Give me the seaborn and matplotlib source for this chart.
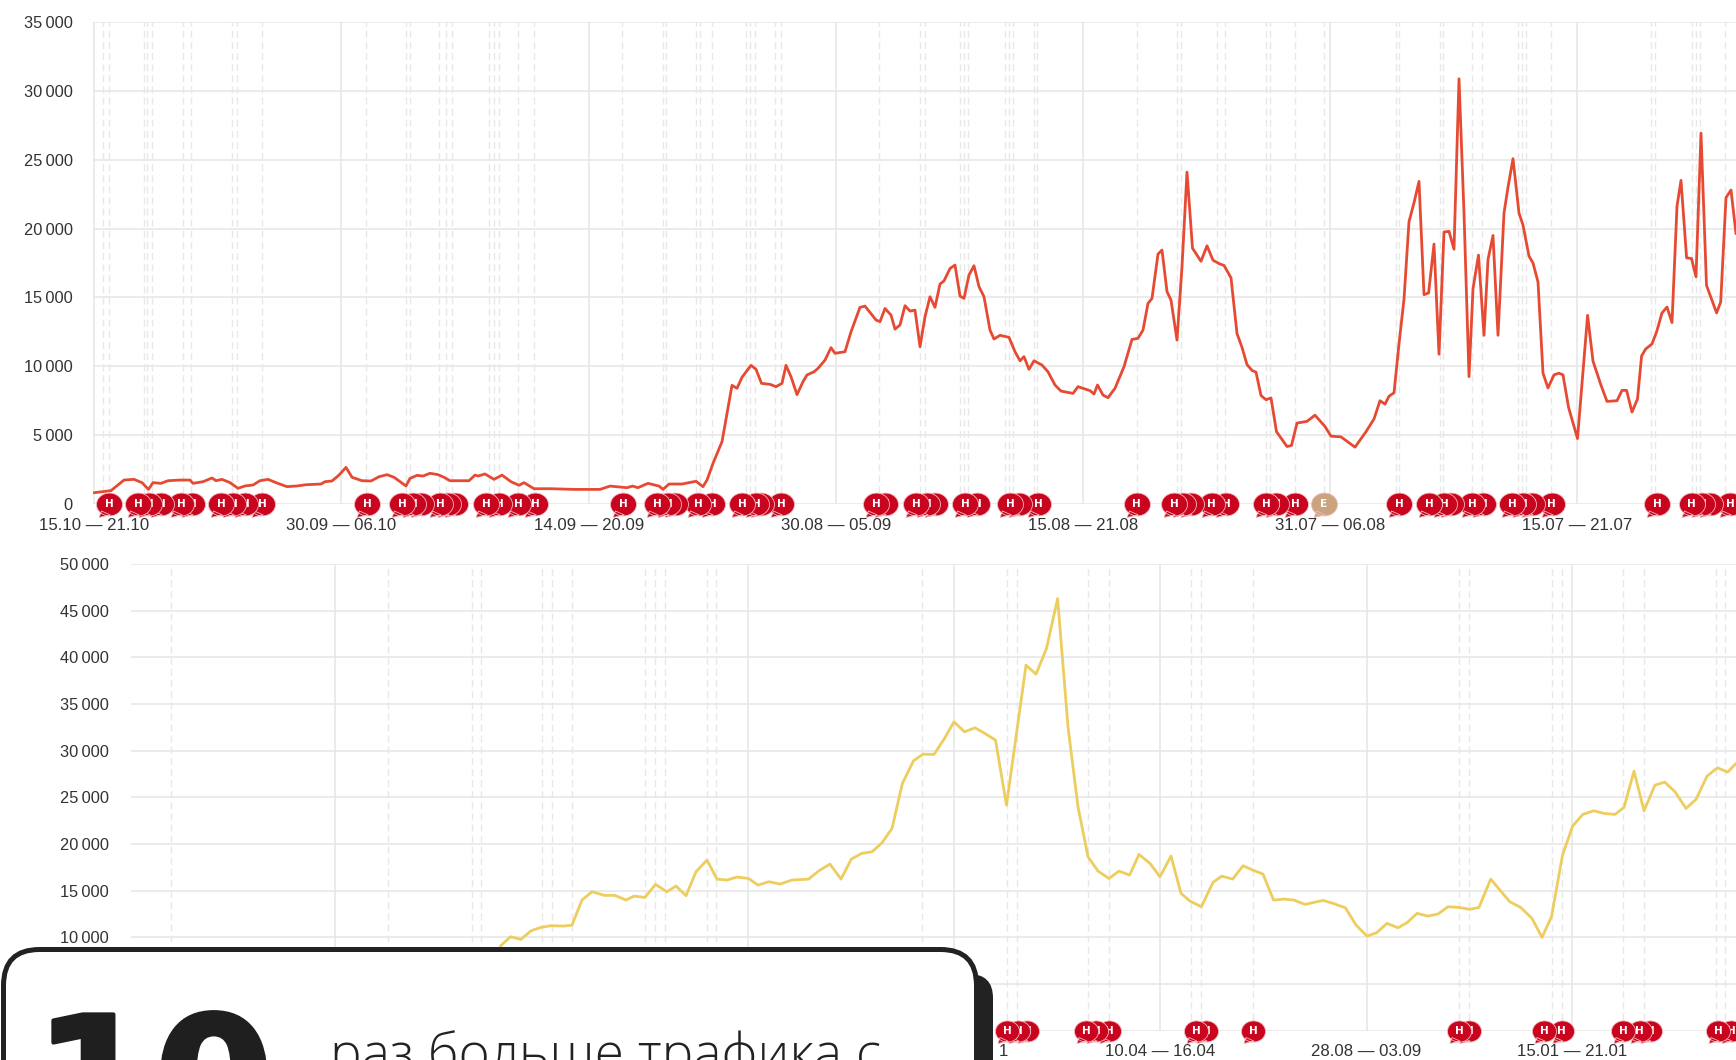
import matplotlib
matplotlib.use("Agg")
import matplotlib.pyplot as plt
import matplotlib.patheffects as pe
import numpy as np
import seaborn as sns
from matplotlib.patches import FancyBboxPatch
from matplotlib.path import Path

# ---- top chart data (position along the time axis, visits)
top_pos = [94,111,124,134,142,148.5,153,161,168,180,190,193,203,212,216,222,230,238,245,253,260,268,276,287,297,306,321,325,332,339,346,352,362,371,379,387,394,400,406,410,417,423,430,438,444,450,469,475,478,485,494,502,511,519,524,534,551,574,600,
 610,627,632.5,638,648,659,663,669,682,696,703,707,713,722,732,737,742,751,756,761.5,770,776,782,786,791,797,803,807,814,818,825,831,835,845,851,860,865,872,876,880,885,891,895,900,905,910,915,920,925,930,935,940,944,950,955,960,964,969,974,979,984,990,994,1000,1009,1015,1020,1024,1029,1034,1042,1048,1055,1061,1073,1078,1090,1094,1097.5,1103,1108,1115,1124,1132,1138,1143,1148,1152,1158,1162,1167,1171,1177,1182,1187,
 1192.5,1201,1207,1213,1220,1224,1231,1237,1242,1247,1252,1256,1261,1266,1271,1276.5,1287,1291.5,1297,1307,1315,1325,1331,1341,1355,1366,1374,1380,1385,1389,1394,1399,1404,1409,1414,1419,1424,1428.6,1434,1439,1444,1449,1454,1459,1464,1469,1473,1478.5,1484,1488,1493,1498,1504,1508,1513,1519,1523,1529,1533,1538,1543,1548,1554,1559,1563,1568.6,1577.5,1587.6,1593,1601,1607,1617,1622,1626.6,1632,1637.5,1641.6,1645.6,1652,1656.6,1662,1667,1672,1677,1681,1686.6,1691.5,1696,1701,1706.5,1716.6,1720.7,1726,1731,1736]
top_visits = [820,970,1740,1790,1550,1060,1550,1500,1690,1740,1740,1500,1620,1890,1690,1790,1550,1140,1310,1380,1690,1790,1550,1260,1310,1400,1450,1620,1670,2100,2660,1940,1690,1670,1980,2130,1940,1620,1310,1860,2080,2030,2230,2130,1940,1690,1690,2100,2030,2180,1790,2100,1620,1360,1550,1110,1110,1060,1060,
 1300,1185,1300,1185,1500,1300,1065,1450,1450,1650,1260,1740,2950,4525,8615,8400,9200,10070,9780,8760,8690,8520,8760,10070,9240,7940,8880,9370,9600,9850,10450,11350,10940,11060,12500,14280,14370,13720,13360,13240,14200,13720,12700,13000,14400,14010,14080,11420,13600,15050,14280,15970,16200,17100,17350,15100,14930,16630,17300,15780,15050,12630,11980,12250,12100,11060,10400,10700,9780,10400,10090,9600,8640,8200,8030,8520,8230,7990,8640,7910,7720,8400,9970,11950,12030,12630,14570,14930,18150,18440,15420,14810,11900,17230,24100,
 18575,17625,18750,17700,17425,17325,16425,12375,11375,10125,9700,9575,7875,7575,7700,5250,4175,4250,5875,6000,6450,5625,4925,4875,4125,5250,6175,7500,7250,7825,8075,11625,14875,20500,21875,23425,15200,15325,18875,10875,19750,19800,18500,30875,21125,9250,15625,18075,12250,17750,19500,12250,21125,23000,25075,21125,20250,18000,17500,16125,9500,8425,9375,9500,9375,7000,4750,13700,10375,8625,7450,7500,8250,8250,6675,7625,10750,11250,11625,12500,13875,14300,13175,21625,23500,17875,17825,16500,26925,15875,13875,14675,22250,22800,19625]
top_ticks = [94,341,589,836,1083,1330,1577]
top_labels = ["15.10 — 21.10","30.09 — 06.10","14.09 — 20.09","30.08 — 05.09","15.08 — 21.08","31.07 — 06.08","15.07 — 21.07"]
top_yticks = [0,5000,10000,15000,20000,25000,30000,35000]
top_events = [103,109,143.5,147,152,183,191,231.5,237,262,365.5,406,410,439,446,452,489,494,499,518,534,622,663,666,696,700,712,746,750,755,775,781,879,920,924.5,960,964,968,1005,1009,1013,1034,1037,1136.5,1177,1181,1217,1225,1265.5,1269.6,1295,1324,1396,1399,1440,1443,1472,1482,1518,1522,1526,1551,1651,1655,1691.5,1696,1700,1725]
top_notes = [109,138,149,161,181,192,221,233,245,262,367,402,413,421,440,448,455,486,499,518,535,623,657,668,675,698,712,742,756,761,781,876,885,916,927,935,965,977,1010,1019,1038,1136.5,1174,1183,1191,1211.5,1226,1266,1276,1295,1399,1429,1444,1451,1472,1483,1512,1523,1532,1551.5,1657,1691.5,1702,1710,1730]
top_notes_other = [1324]

# ---- bottom chart data
bot_pos = [500.4,510.6,520.8,531,541,551,563.7,572,582,592,604.5,614.7,626,634,645,655.5,667,676,686,696,707,717,727,737,748.6,758,769,780,792,808.6,819,830,841,851.4,861.6,872,882,892,902.4,913.5,923,934,944.5,954,964.5,975,985,995.5,1006.5,1026,1036,1046.5,1057.6,1068,1078,1088,1098,
 1109,1119,1129.6,1139,1150,1160,1171,1181,1190,1201.4,1213,1221.7,1232.7,1243,1253,1263,1273.6,1284.6,1294,1305,1323,1333,1345.4,1356,1367,1376.7,1387,1398,1407,1417,1428,1438,1448,1459,1470,1479,1490.7,1509.7,1520.7,1532,1542,1551.5,1562.5,1572.6,1582.8,1593.7,1604,1615,1624,1634,1644,1655,1664.7,1675,1686,1696,1707,1717.4,1727.6,1736]
bot_visits = [9070,10070,9780,10700,11070,11250,11210,11320,14000,14890,14500,14500,14000,14420,14280,15670,14890,15500,14460,17030,18280,16240,16140,16460,16310,15600,15960,15710,16140,16240,17140,17850,16240,18390,18990,19170,20130,21670,26490,28920,29630,29600,31310,33090,32020,32450,31840,31130,24170,39160,38200,40950,46300,32560,23990,18640,17100,
 16310,17100,16670,18890,17920,16490,18710,14710,13890,13280,15890,16560,16240,17670,17200,16780,13990,14100,13990,13530,13960,13640,13170,11320,10140,10500,11500,11030,11570,12570,12280,12500,13280,13210,13000,13210,16240,13820,13210,12030,10000,12210,18810,21920,23170,23560,23280,23170,23920,27810,23560,26310,26630,25600,23810,24780,27270,28170,27700,28630]
bot_ticks = [335,748,954,1160,1366.5,1572]
bot_labels = ["","","","10.04 — 16.04","28.08 — 03.09","15.01 — 21.01"]
bot_yticks = [0,5000,10000,15000,20000,25000,30000,35000,40000,45000,50000]
bot_events = [170.5,388,471.6,480.7,542,552,572,645,655,665,706.5,716,922,1007,1017,1088,1108.6,1191,1200.6,1253,1459,1469,1551.5,1561.6,1623,1644,1716,1725]
bot_notes = [1007,1018,1027,1086,1096,1109,1196,1206,1253,1459,1469,1544,1561.6,1623,1639.5,1650,1718,1731]

RED, TAN = "#c8041f", "#c9a47e"
GRID = "#e6e6e6"
sns.set_theme(style="white")
plt.rcParams["font.family"] = ["Liberation Sans", "DejaVu Sans"]

W, H = 1736, 1060
fig = plt.figure(figsize=(W/100, H/100), dpi=100, facecolor="white")

def rect(l, t, r, b):
    return [l/W, 1-b/H, (r-l)/W, (b-t)/H]

ax1 = fig.add_axes(rect(93, 22, 1736, 504))
ax2 = fig.add_axes(rect(131, 564, 1736, 1030.7))

# speech-bubble note marker
circ = Path.unit_circle()
body = Path(circ.vertices*np.array([1, .88]), circ.codes)
tail = Path([(-.62,-.5),(-.8,-1.0),(.05,-.8),(-.62,-.5)], [Path.MOVETO,Path.LINETO,Path.LINETO,Path.CLOSEPOLY])
bubble = Path.make_compound_path(body, tail)

def fmt(v):
    return f"{v:,}".replace(",", "\u2009")

def style(ax, xlim, ymax, ticks, labels, yticks, events, notes, size, pad_y, pad_x, others=()):
    ax.set_xlim(*xlim); ax.set_ylim(0, ymax)
    ax.set_xticks(ticks); ax.set_xticklabels(labels)
    ax.set_yticks(yticks); ax.set_yticklabels([fmt(v) for v in yticks])
    ax.set_xlabel(""); ax.set_ylabel("")
    ax.grid(True, color=GRID, lw=1.1)
    ax.set_axisbelow(True)
    for s in ax.spines.values():
        s.set_visible(False)
    ax.tick_params(axis="y", length=0, pad=pad_y, labelsize=11.8, colors="#333333")
    ax.tick_params(axis="x", length=0, pad=pad_x, labelsize=12.1, colors="#333333")
    for e in events:
        ax.axvline(e, color="#e8e8e8", lw=1.0, ls=(0, (5, 3)), zorder=1)
    allnotes = sorted([(n, RED, "H") for n in notes] + [(n, TAN, "E") for n in others], reverse=True)
    for i, (n, c, t) in enumerate(allnotes):
        ax.scatter([n], [0], marker=bubble, s=size, color=c, edgecolors="#f3b9bd", linewidths=.6, clip_on=False, zorder=5+i)
        ax.text(n, 0, t, color="white", fontsize=7.5, fontweight="bold", ha="center", va="center", zorder=5+i, family="DejaVu Sans")

sns.lineplot(x=top_pos, y=top_visits, ax=ax1, color="#e64a33", lw=2.0, sort=False, errorbar=None, zorder=3)
style(ax1, (93, 1736), 35000, top_ticks, top_labels, top_yticks, top_events, top_notes, 350, 14.5, 10, top_notes_other)
sns.lineplot(x=bot_pos, y=bot_visits, ax=ax2, color="#edcd5e", lw=2.0, sort=False, errorbar=None, zorder=3)
style(ax2, (131, 1736), 50000, bot_ticks, bot_labels, bot_yticks, bot_events, bot_notes, 300, 16, 9.5)
# the only visible character of the tick label that the card hides
ax2.annotate("1", xy=(1003, 0), xytext=(0, -9.5), textcoords="offset points", ha="center", va="top", fontsize=12.1, color="#333333", annotation_clip=False)

# overlay card, in pixel units
ov = fig.add_axes([0, 0, 1, 1], zorder=50)
ov.set_xlim(0, W); ov.set_ylim(H, 0); ov.axis("off")
R = 36
ov.add_patch(FancyBboxPatch((40+R, 974+R), 953-2*R, 200, boxstyle=f"round,pad={R},rounding_size=24", fc="#222222", ec="none", zorder=1))
ov.add_patch(FancyBboxPatch((3.5+R, 949.5+R), 973-2*R, 200, boxstyle=f"round,pad={R},rounding_size={R}", fc="white", ec="#222222", lw=3.6, zorder=2))
ov.text(34, 1140, "10", fontsize=124, fontweight="bold", color="#1f1f1f", family="DejaVu Sans", va="baseline", ha="left", zorder=3,
        path_effects=[pe.withStroke(linewidth=3, foreground="#1f1f1f")])
ov.text(330, 1071, "раз больше трафика с", fontsize=38.4, color="#222222", family="Open Sans", fontweight="light", va="baseline", ha="left", zorder=3)

fig.savefig("out.png", dpi=100)
